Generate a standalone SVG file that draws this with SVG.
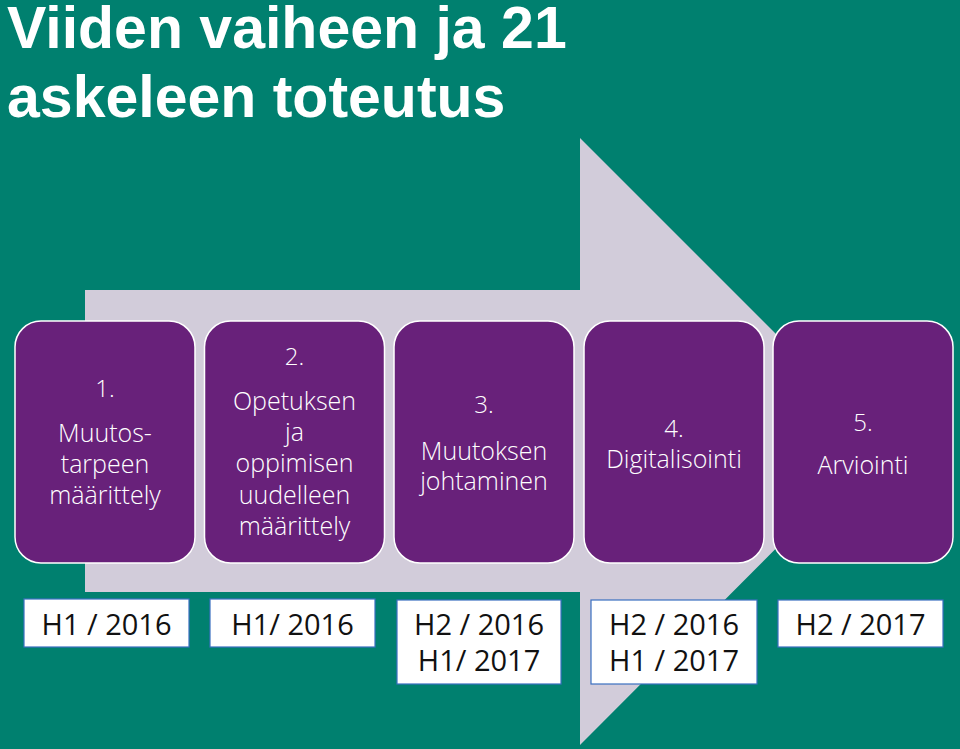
<svg xmlns="http://www.w3.org/2000/svg" width="960" height="749" viewBox="0 0 960 749">
<style>
.title{font-family:"Liberation Sans",Arial,sans-serif;font-weight:bold;font-size:59px;fill:#ffffff}
.step rect{fill:#68217a;stroke:#ffffff;stroke-width:1.5}
.step text{font-family:"Open Sans","Noto Sans",sans-serif;font-weight:300;fill:#ffffff;text-anchor:middle}
.num{font-size:24px}
.lbl{font-size:25px}
.date rect{fill:#ffffff;stroke:#3a6fc0;stroke-width:1.2}
.date text{font-family:"Open Sans","Noto Sans",sans-serif;font-size:29px;fill:#111111;text-anchor:middle}
</style>
<rect x="0" y="0" width="960" height="749" fill="#00806f"/>
<g id="title">
<text class="title" x="7" y="48">Viiden vaiheen ja 21</text>
<text class="title" x="7" y="117">askeleen toteutus</text>
</g>
<g id="connectors">
<polygon id="arrow" points="85,290 580,290 580,138 883,441 580,745 580,592 85,592" fill="#d2ccda"/>
</g>
<g id="step1" class="step">
<rect x="15" y="321" width="180" height="242" rx="26"/>
<text class="num" x="105" y="397">1.</text>
<text class="lbl" x="105" y="442">Muutos-</text>
<text class="lbl" x="105" y="473">tarpeen</text>
<text class="lbl" x="105" y="504">määrittely</text>
</g>
<g id="step2" class="step">
<rect x="204.5" y="321" width="180" height="242" rx="26"/>
<text class="num" x="294.5" y="365">2.</text>
<text class="lbl" x="294.5" y="410">Opetuksen</text>
<text class="lbl" x="294.5" y="441">ja</text>
<text class="lbl" x="294.5" y="472">oppimisen</text>
<text class="lbl" x="294.5" y="504">uudelleen</text>
<text class="lbl" x="294.5" y="535">määrittely</text>
</g>
<g id="step3" class="step">
<rect x="394" y="321" width="180" height="242" rx="26"/>
<text class="num" x="484" y="413">3.</text>
<text class="lbl" x="484" y="460">Muutoksen</text>
<text class="lbl" x="484" y="490">johtaminen</text>
</g>
<g id="step4" class="step">
<rect x="584" y="321" width="180" height="242" rx="26"/>
<text class="num" x="674" y="437">4.</text>
<text class="lbl" x="674" y="468">Digitalisointi</text>
</g>
<g id="step5" class="step">
<rect x="773" y="321" width="180" height="242" rx="26"/>
<text class="num" x="863" y="431">5.</text>
<text class="lbl" x="863" y="474">Arviointi</text>
</g>
<g id="date1" class="date">
<rect x="24" y="599" width="165" height="48"/>
<text x="106.5" y="635">H1 / 2016</text>
</g>
<g id="date2" class="date">
<rect x="210" y="599" width="165" height="48"/>
<text x="292.5" y="635">H1/ 2016</text>
</g>
<g id="date3" class="date">
<rect x="397" y="600" width="164" height="84"/>
<text x="479" y="635">H2 / 2016</text>
<text x="479" y="671">H1/ 2017</text>
</g>
<g id="date4" class="date">
<rect x="591" y="600" width="166" height="84"/>
<text x="674" y="635">H2 / 2016</text>
<text x="674" y="671">H1 / 2017</text>
</g>
<g id="date5" class="date">
<rect x="778" y="600" width="165" height="47"/>
<text x="860.5" y="635">H2 / 2017</text>
</g>
</svg>
